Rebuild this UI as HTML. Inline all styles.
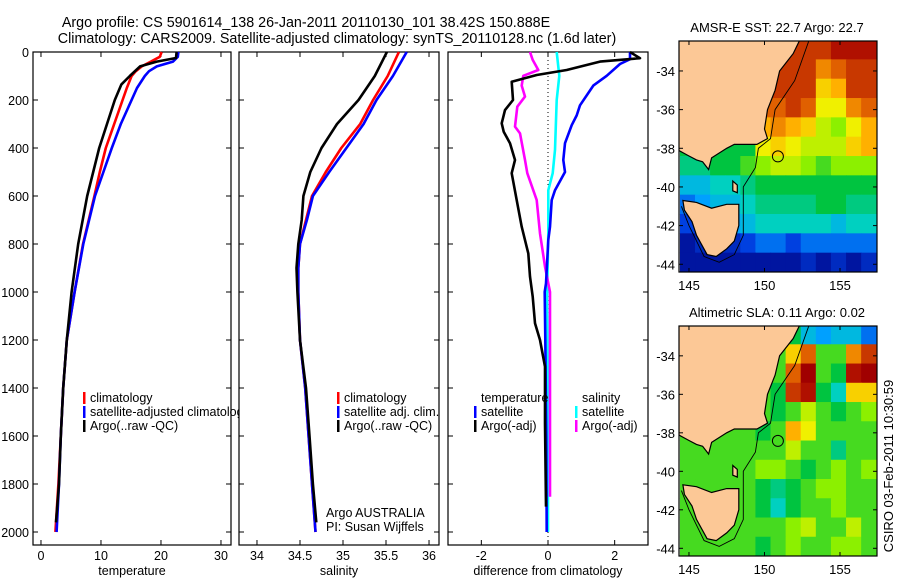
<!DOCTYPE html>
<html><head><meta charset="utf-8"><style>
html,body{margin:0;padding:0;background:#fff;}
svg{display:block;font-family:"Liberation Sans",sans-serif;}
text{fill:#000;}
</style></head><body>
<svg id="fig" width="900" height="580" viewBox="0 0 900 580">
<text x="306" y="27" font-size="14.3" text-anchor="middle">Argo profile: CS 5901614_138 26-Jan-2011 20110130_101 38.42S 150.888E</text>
<text x="337" y="43" font-size="14.3" text-anchor="middle">Climatology: CARS2009. Satellite-adjusted climatology: synTS_20110128.nc (1.6d later)</text>
<text transform="translate(893,466) rotate(-90)" font-size="13" text-anchor="middle">CSIRO 03-Feb-2011 10:30:59</text>
</svg>
<script>
// ---------- profile data ----------
const depthTC=[0,20,40,60,80,100,150,200,300,400,500,600,800,1000,1200,1400,1600,1800,2000];
const tempClim=[20.1,19.8,18.3,16.8,15.8,15.1,14.3,13.6,12.2,10.8,9.8,8.9,7.0,5.6,4.3,3.7,3.3,2.9,2.4];
const depthTS=[0,20,40,60,80,100,150,200,300,400,500,600,800,1000,1200,1400,1600,1800,2000];
const tempSat=[22.9,22.8,22.0,19.3,18.0,17.3,16.0,15.1,13.3,11.8,10.4,9.0,7.05,5.6,4.3,3.7,3.3,3.0,2.6];
const depthTA=[0,25,40,60,100,135,200,300,400,500,600,800,1000,1200,1400,1600,1800,1960];
const tempArgo=[22.6,22.5,19.3,16.5,14.8,13.4,12.3,11.0,9.7,8.7,7.7,6.2,5.1,4.3,3.7,3.3,3.0,2.5];
const depthS=[0,100,200,300,400,500,600,700,800,900,1000,1200,1400,1600,1800,2000];
const salClim=[35.65,35.52,35.35,35.2,34.98,34.8,34.64,34.57,34.5,34.48,34.48,34.5,34.56,34.6,34.64,34.68];
const salSat=[35.74,35.58,35.39,35.24,35.04,34.84,34.65,34.58,34.5,34.48,34.48,34.5,34.56,34.6,34.64,34.68];
const depthSA=[0,100,200,300,400,500,600,700,800,900,1000,1200,1400,1600,1800,1960];
const salArgo=[35.51,35.37,35.18,34.93,34.75,34.62,34.54,34.52,34.48,34.46,34.47,34.5,34.57,34.61,34.65,34.69];
const depthD1=[0,26,40,75,96,124,200,242,297,332,380,450,505,617,728,839,936,1019,1130,1200,1311,1547,1894];
const dTempArgo=[2.46,2.76,1.56,0.56,-0.34,-1.09,-1.05,-1.29,-1.39,-1.33,-1.14,-0.99,-1.09,-0.94,-0.79,-0.59,-0.54,-0.46,-0.39,-0.24,-0.09,-0.09,-0.06];
const depthD2=[0,30,50,99,140,222,264,305,380,450,500,576,617,728,783,964,1000,1200,1600,2000];
const dTempSat=[2.46,2.46,2.16,1.76,1.36,0.96,0.86,0.71,0.51,0.46,0.51,0.21,0.11,0.06,0.01,-0.06,-0.1,-0.08,-0.05,-0.04];
const depthD3=[0,99,200,408,505,576,756,1033,1400,2000];
const dSalSat=[0.26,0.34,0.26,0.21,0.14,0.01,0.01,-0.03,0.0,0.0];
const depthD4=[0,33,75,99,140,186,228,311,339,450,505,617,756,894,1000,1400,1853];
const dSalArgo=[-0.54,-0.46,-0.29,-0.74,-0.79,-0.69,-0.92,-0.99,-0.84,-0.69,-0.62,-0.34,-0.24,-0.09,0.06,0.06,0.06];
const depthTicks=[0,200,400,600,800,1000,1200,1400,1600,1800,2000];
const tempTicks=[0,10,20,30];
const salTicks=[34,34.5,35,35.5,36];
const diffTicks=[-2,0,2];

// ---------- map data (1-degree cells, value 0..10 on colour scale) ----------
const mapLon0=144.4, mapLat0=-32.4;
const sstGrid=[
[9,9,9,9,9,9,9,9,9,9,9.5,9.5,9.5],
[9,9,9,9,9,9,9,9,9,8,8.5,9,9],
[9,9,9,9,9,9,9,9,9,7,7.5,9,9],
[8.5,8.5,8.5,8.5,8.5,8.5,8.5,9,8.5,6.5,6.5,8,8.5],
[8,8,8,8,8,7.5,8,7.5,7,6,5.5,6.5,7.5],
[4.5,4.5,4.5,4.5,4.5,6.5,7,6.5,6,6,6,7,7.5],
[4,4,4.5,4.5,5,5.5,6,6,5.5,5,5.5,5.5,5.5],
[3,3,3.5,3.5,4,4.5,4.5,4.5,4.5,4.5,4.5,4.5,4.5],
[2,2.5,3,3,3.5,4,4,4,4,4.5,4.5,4,4],
[1.5,2,2,2.5,3,3.5,3.5,3.5,3.5,3.5,3,3.5,3.5],
[0.5,1,1,1,1.5,2,2,1.5,2,2,2,2,2],
[0.5,0.5,0.5,0.5,0.5,0.5,0.5,0.5,1,0.5,1,0.5,1]];
const slaGrid=[
[5,5,5,5,5,5,5,4.5,3,2.5,3,3,2],
[5,5,5,5,5,5,5,7,8.5,5,5,8,9],
[5,5,5,5,5,5,5,8.5,10,5,4.5,9.5,10],
[5,5,5,5,5,5,4.5,9,9.5,4.5,3.5,7,7],
[5,5,5,5,5,5,4.5,5,6,5,4.5,5,5.5],
[5,5,5,5,5,4.5,5,7.5,6.5,5,5,5,5],
[5,5,5,5,5,5,5,6,5,5,4,5,5],
[5,5,5,5,5,5.5,5.5,5,4.5,5,5.5,5,5.5],
[5,5,5,5,5,4.5,4,4.5,5,5.5,5.5,5,5],
[5,5,5,5,5,4.5,3.5,4.5,5,5,5.5,5,5],
[5,5,5,5,5,5,5,5.5,6,5,5,6,5],
[5,5,5,5,5,4.5,5,5.5,5,5,5.5,5.5,5]];
const latTicks=[-34,-36,-38,-40,-42,-44];
const lonTicks=[145,150,155];
const mainland=[[144.3,-32.3],[152.4,-32.3],[151.9,-33.1],[151.0,-34.0],[150.7,-35.0],[150.2,-36.0],[150.0,-37.0],[150.2,-37.5],[149.5,-37.8],[148.0,-37.8],[147.5,-38.0],[146.5,-38.5],[146.3,-39.1],[145.9,-38.7],[145.5,-38.6],[145.0,-38.4],[144.3,-38.1]];
const tasmania=[[144.6,-40.7],[145.5,-40.8],[146.5,-41.1],[147.5,-40.9],[148.3,-40.9],[148.3,-42.0],[148.0,-42.8],[147.5,-43.2],[146.8,-43.6],[146.2,-43.5],[145.5,-42.5],[145.2,-41.8],[144.7,-41.2]];
const flinders=[[147.9,-39.7],[148.2,-39.9],[148.2,-40.3],[147.9,-40.2]];
const shelf=[[153.0,-32.3],[152.0,-34.5],[150.7,-36.0],[150.4,-37.5],[149.6,-38.0],[149.4,-39.0],[148.6,-40.0],[148.6,-42.5],[148.0,-43.5],[147.0,-43.9],[146.0,-43.6],[145.0,-42.0],[144.5,-41.0]];
const argoLon=150.888, argoLat=-38.42;

const NS='http://www.w3.org/2000/svg';
const svg=document.getElementById('fig');
function mk(tag,attrs,parent){const e=document.createElementNS(NS,tag);for(const k in attrs)e.setAttribute(k,attrs[k]);(parent||svg).appendChild(e);return e;}

const yTop=52, pxPerM=0.24, yBot=545;
function yD(d){return yTop+d*pxPerM;}

function panel(name,x0,x1,vmin,vmax,xticks,xlab,ylabels){
  const sx=v=>x0+(v-vmin)/(vmax-vmin)*(x1-x0);
  const g=mk('g',{});
  
  
  const r=mk('rect',{x:x0,y:yTop,width:x1-x0,height:yBot-yTop,fill:'none',stroke:'#000','stroke-width':1.2},g);
  
  
  depthTicks.forEach(d=>{
    const y=yD(d);
    mk('line',{x1:x0,x2:x0+5,y1:y,y2:y,stroke:'#000'},g);
    mk('line',{x1:x1-5,x2:x1,y1:y,y2:y,stroke:'#000'},g);
    if(ylabels){const t=mk('text',{x:x0-4,y:y+5,'font-size':12.5,'text-anchor':'end'},g);t.textContent=d;
      
      }
  });
  xticks.forEach(v=>{
    const x=sx(v);
    mk('line',{x1:x,x2:x,y1:yBot-5,y2:yBot,stroke:'#000'},g);
    mk('line',{x1:x,x2:x,y1:yTop,y2:yTop+5,stroke:'#000'},g);
    const t=mk('text',{x:x,y:560,'font-size':12.5,'text-anchor':'middle'},g);t.textContent=v;
    
    
  });
  const t=mk('text',{x:(x0+x1)/2,y:575,'font-size':12.5,'text-anchor':'middle'},g);t.textContent=xlab;
  
  
  return {g,sx};
}
function series(p,depths,vals,color,name){
  const pts=depths.map((d,i)=>p.sx(vals[i]).toFixed(1)+','+yD(d).toFixed(1)).join(' ');
  const l=mk('polyline',{points:pts,fill:'none',stroke:color,'stroke-width':2.6,'stroke-linejoin':'round'},p.g);
  
  
}
function legend(g,x,y,items,name){
  items.forEach((it,i)=>{
    const yy=y+i*14;
    if(it[1]) mk('rect',{x:x,y:yy-10,width:2.5,height:12,fill:it[1]},g);
    const t=mk('text',{x:x+7,y:yy,'font-size':12.5},g);t.textContent=it[0];
    
    
  });
}
mk('defs',{}).innerHTML='<clipPath id="c1"><rect x="33" y="40" width="206" height="540"/></clipPath>';

const p1=panel('temperature-panel',33,231,-1.33,31.67,tempTicks,'temperature',true);
series(p1,depthTC,tempClim,'#ff0000','temp-climatology-line');
series(p1,depthTS,tempSat,'#0000ff','temp-satellite-line');
series(p1,depthTA,tempArgo,'#000000','temp-argo-line');
const lg1=mk('g',{'clip-path':'url(#c1)'},p1.g);
legend(lg1,83,402,[['climatology','#ff0000'],['satellite-adjusted climatology','#0000ff'],['Argo(..raw -QC)','#000']],'temp-legend');

const p2=panel('salinity-panel',239,439,33.791,36.116,salTicks,'salinity',false);
series(p2,depthS,salClim,'#ff0000','sal-climatology-line');
series(p2,depthS,salSat,'#0000ff','sal-satellite-line');
series(p2,depthSA,salArgo,'#000000','sal-argo-line');
legend(p2.g,337,402,[['climatology','#ff0000'],['satellite adj. clim.','#0000ff'],['Argo(..raw -QC)','#000']],'sal-legend');
let tt=mk('text',{x:326,y:517,'font-size':12.5},p2.g);tt.textContent='Argo AUSTRALIA';


tt=mk('text',{x:326,y:531,'font-size':12.5},p2.g);tt.textContent='PI: Susan Wijffels';



const p3=panel('difference-panel',448,648,-3.0,3.0,diffTicks,'difference from climatology',false);
mk('line',{x1:p3.sx(0),x2:p3.sx(0),y1:yTop,y2:yBot,stroke:'#000','stroke-dasharray':'1,3'},p3.g);
series(p3,depthD3,dSalSat,'#00ffff','diff-sal-satellite-line');
series(p3,depthD4,dSalArgo,'#ff00ff','diff-sal-argo-line');
series(p3,depthD2,dTempSat,'#0000ff','diff-temp-satellite-line');
series(p3,depthD1,dTempArgo,'#000000','diff-temp-argo-line');
legend(p3.g,474,402,[['temperature',null],['satellite','#0000ff'],['Argo(-adj)','#000']],'diff-temp-legend');
legend(p3.g,575,402,[['salinity',null],['satellite','#00ffff'],['Argo(-adj)','#ff00ff']],'diff-sal-legend');

// ---------- maps ----------
const cmapStops=[[0,[0,0,128]],[1.5,[0,64,224]],[2.5,[0,160,255]],[3.5,[0,208,192]],[4.5,[0,196,64]],[5.5,[140,240,0]],[6.5,[240,240,0]],[7.5,[255,176,0]],[8.5,[224,96,0]],[9.5,[176,16,0]],[10,[160,0,0]]];
function cmap(v){
  for(let i=0;i<cmapStops.length-1;i++){const a=cmapStops[i],b=cmapStops[i+1];
    if(v<=b[0]){const t=Math.max(0,(v-a[0])/(b[0]-a[0]));return 'rgb('+a[1].map((c,k)=>Math.round(c+(b[1][k]-c)*t)).join(',')+')';}}
  return 'rgb(160,0,0)';
}
function mapPanel(name,title,grid,x0,x1,y0,y1,clipId){
  const lonA=144.34,lonB=157.45,latA=-32.45,latB=-44.4;
  const sx=lon=>x0+(lon-lonA)/(lonB-lonA)*(x1-x0);
  const sy=lat=>y0+(lat-latA)/(latB-latA)*(y1-y0);
  const g=mk('g',{});
  
  
  mk('clipPath',{id:clipId},g).appendChild(document.createElementNS(NS,'rect'));
  const cr=g.querySelector('clipPath rect');cr.setAttribute('x',x0);cr.setAttribute('y',y0);cr.setAttribute('width',x1-x0);cr.setAttribute('height',y1-y0);
  const inner=mk('g',{'clip-path':'url(#'+clipId+')'},g);
  grid.forEach((row,r)=>row.forEach((v,c)=>{
    const xa=sx(mapLon0+c),xb=sx(mapLon0+c+1),ya=sy(mapLat0-r),yb=sy(mapLat0-r-1);
    const cell=mk('rect',{x:xa,y:ya,width:xb-xa+0.5,height:yb-ya+0.5,fill:cmap(v)},inner);
    
    
  }));
  const poly=pts=>pts.map(p=>sx(p[0]).toFixed(1)+','+sy(p[1]).toFixed(1)).join(' ');
  [mainland,tasmania,flinders].forEach(pl=>{
    const l=mk('polygon',{points:poly(pl),fill:'#fcc896',stroke:'#000','stroke-width':1.2},inner);
    
    
  });
  const s=mk('polyline',{points:poly(shelf),fill:'none',stroke:'#000','stroke-width':0.9},inner);
  
  
  const c=mk('circle',{cx:sx(argoLon),cy:sy(argoLat),r:5.5,fill:'none',stroke:'#000','stroke-width':1},g);
  
  
  mk('rect',{x:x0,y:y0,width:x1-x0,height:y1-y0,fill:'none',stroke:'#000','stroke-width':1.2},g);
  latTicks.forEach(la=>{const y=sy(la);
    mk('line',{x1:x0,x2:x0+4,y1:y,y2:y,stroke:'#000'},g);mk('line',{x1:x1-4,x2:x1,y1:y,y2:y,stroke:'#000'},g);
    const t=mk('text',{x:x0-4,y:y+5,'font-size':13,'text-anchor':'end'},g);t.textContent=la;
    
    });
  lonTicks.forEach(lo=>{const x=sx(lo);
    mk('line',{x1:x,x2:x,y1:y0,y2:y0+4,stroke:'#000'},g);mk('line',{x1:x,x2:x,y1:y1-4,y2:y1,stroke:'#000'},g);
    const t=mk('text',{x:x,y:y1+18,'font-size':13,'text-anchor':'middle'},g);t.textContent=lo;
    
    });
  const t=mk('text',{x:(x0+x1)/2-1,y:y0-9,'font-size':13,'text-anchor':'middle'},g);t.textContent=title;
  
  
}
mapPanel('sst-map','AMSR-E SST: 22.7 Argo: 22.7',sstGrid,679,877,41,272,'m1');
mapPanel('sla-map','Altimetric SLA: 0.11 Argo: 0.02',slaGrid,679,877,326,556,'m2');
</script>
</body></html>
